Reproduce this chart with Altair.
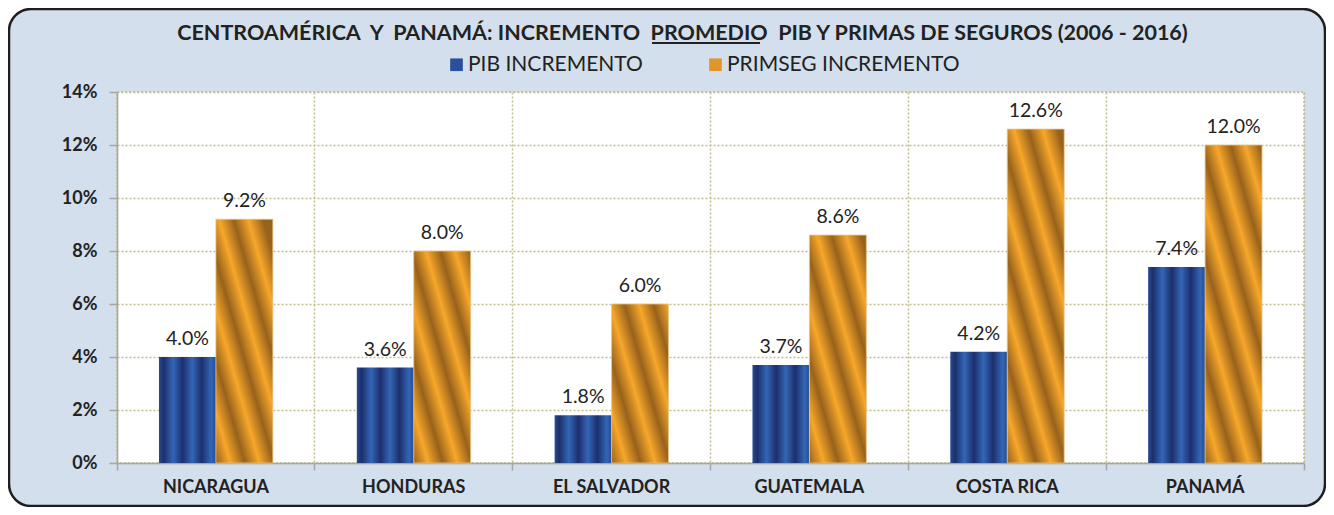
import math
import altair as alt
import pandas as pd

countries = ["NICARAGUA", "HONDURAS", "EL SALVADOR", "GUATEMALA", "COSTA RICA", "PANAMÁ"]
series = ["PIB INCREMENTO", "PRIMSEG INCREMENTO"]
pib = [0.040, 0.036, 0.018, 0.037, 0.042, 0.074]
primseg = [0.092, 0.080, 0.060, 0.086, 0.126, 0.120]
y_ticks = [0, 0.02, 0.04, 0.06, 0.08, 0.10, 0.12, 0.14]
title_text = ("CENTROAMÉRICA\u00a0 Y\u00a0 PANAMÁ: INCREMENTO\u00a0 PROMEDIO\u00a0 "
              "PIB Y PRIMAS DE SEGUROS (2006 - 2016)")

rows = []
for c, a, b in zip(countries, pib, primseg):
    rows.append({"country": c, "series": series[0], "value": a})
    rows.append({"country": c, "series": series[1], "value": b})
df = pd.DataFrame(rows)

W, H = 1187, 371
FONT = "Lato"
TXT = "#222222"
GRID = "#C2BC8E"
AXIS = "#A6A6A6"

# ---- gradients -------------------------------------------------------------
BLUE_D, BLUE_L, BLUE_M = "#1D2F6C", "#3366B6", "#284A93"
blue_stops = [(0.0, BLUE_M), (1/12, BLUE_D), (3/12, BLUE_L), (5/12, BLUE_D),
              (7/12, BLUE_L), (9/12, BLUE_D), (11/12, BLUE_L), (1.0, BLUE_M)]
blue_grad = alt.LinearGradient(
    gradient="linear",
    stops=[alt.GradientStop(color=c, offset=o) for o, c in blue_stops],
    x1=0, x2=1, y1=0, y2=0)

OR_D, OR_L = "#98621C", "#F7A72A"
bar_w = 57.0
slope = 3.5
period = 28.0


def orange_grad(v):
    h = v / 0.14 * H
    L = (h + slope * bar_w) / math.sqrt(1 + slope ** 2)
    n = max(1.0, L / period)
    c = (slope * bar_w + h) / ((slope * bar_w) ** 2 + h ** 2)
    x2 = c * slope * bar_w
    y2 = 1 - c * h
    stops = []
    k = 0
    pos = 0.0
    step = 1.0 / (2 * n)
    while pos <= 1.0 + 1e-9:
        stops.append(alt.GradientStop(color=OR_D if k % 2 == 0 else OR_L, offset=round(pos, 4)))
        pos += step
        k += 1
    return alt.LinearGradient(gradient="linear", stops=stops, x1=0, y1=1, x2=x2, y2=y2)


# ---- encodings -------------------------------------------------------------
x_axis = alt.Axis(title=None, bandPosition=1, tickExtra=True, labelOffset=0,
                  grid=True, gridColor=GRID, gridDash=[2, 2], gridWidth=1.5,
                  domainColor=AXIS, domainWidth=1.5, tickColor=AXIS, tickSize=7,
                  tickWidth=1.5, labelFont=FONT, labelFontSize=18, labelFontWeight="bold",
                  labelColor=TXT, labelPadding=8, labelAngle=0)
y_axis = alt.Axis(title=None, values=y_ticks, format=".0%", grid=True, gridColor=GRID,
                  gridDash=[2, 2], gridWidth=1.5, domainColor=AXIS, domainWidth=1.5,
                  tickColor=AXIS, tickSize=8, tickWidth=1.5, labelFont=FONT,
                  labelFontSize=18, labelFontWeight="bold", labelColor=TXT, labelPadding=12)

X = alt.X("country:N", sort=countries,
          scale=alt.Scale(domain=countries, paddingInner=0, paddingOuter=0), axis=x_axis)
XO = alt.XOffset("series:N", scale=alt.Scale(domain=series, paddingOuter=0.737, paddingInner=0))
Y = alt.Y("value:Q", scale=alt.Scale(domain=[0, 0.14], nice=False), axis=y_axis)

base = alt.Chart(df).encode(x=X, xOffset=XO, y=Y)

legend_layer = base.mark_bar(opacity=0).encode(
    color=alt.Color("series:N", scale=alt.Scale(domain=series, range=["#2A4F9C", "#E0962A"]),
                    legend=alt.Legend(title=None, orient="none", legendX=329, legendY=-38,
                                      direction="horizontal", symbolType="square",
                                      symbolSize=160, symbolOpacity=1, symbolStrokeWidth=0,
                                      labelFont=FONT, labelFontSize=21, labelColor=TXT,
                                      labelOffset=1, labelLimit=500, columnPadding=62)))

blue_layer = base.mark_bar(fill=blue_grad).transform_filter(
    alt.datum.series == series[0])

orange_layers = []
for c, v in zip(countries, primseg):
    orange_layers.append(
        base.mark_bar(fill=orange_grad(v), stroke="#E9C58A", strokeWidth=0.8).transform_filter(
            (alt.datum.series == series[1]) & (alt.datum.country == c)))

text_layer = base.mark_text(font=FONT, fontSize=19.5, color=TXT, baseline="alphabetic",
                            dy=-12).encode(text=alt.Text("value:Q", format=".1%"))

one = pd.DataFrame({"k": [0]})
cover = alt.Chart(one).mark_rect(fillOpacity=0, stroke="white", strokeWidth=24,
                                 cornerRadius=34).encode(
    x=alt.value(-120), x2=alt.value(1220), y=alt.value(-95), y2=alt.value(426))
frame = alt.Chart(one).mark_rect(fillOpacity=0, stroke="#1E1E1E", strokeWidth=2.5,
                                 cornerRadius=22).encode(
    x=alt.value(-108), x2=alt.value(1208), y=alt.value(-83), y2=alt.value(414))
# underline of the word PROMEDIO in the title
underline = alt.Chart(one).mark_rule(color=TXT, strokeWidth=2).encode(
    x=alt.value(535), x2=alt.value(643), y=alt.value(-49))

chart = alt.layer(legend_layer, blue_layer, *orange_layers, text_layer, cover, frame,
                  underline).properties(
    width=W, height=H,
    autosize=alt.AutoSizeParams(type="none"),
    padding={"left": 109, "top": 84, "right": 22, "bottom": 44},
    background="#D3DFEC",
    title=alt.TitleParams(text=title_text, font=FONT, fontSize=21.5, fontWeight="bold",
                          color=TXT, anchor="middle", dx=-28, offset=-59),
).configure_view(fill="white", stroke=GRID, strokeDash=[2, 2], strokeWidth=1.5)

chart.save("out.html", embed_options={"renderer": "svg", "actions": False})
